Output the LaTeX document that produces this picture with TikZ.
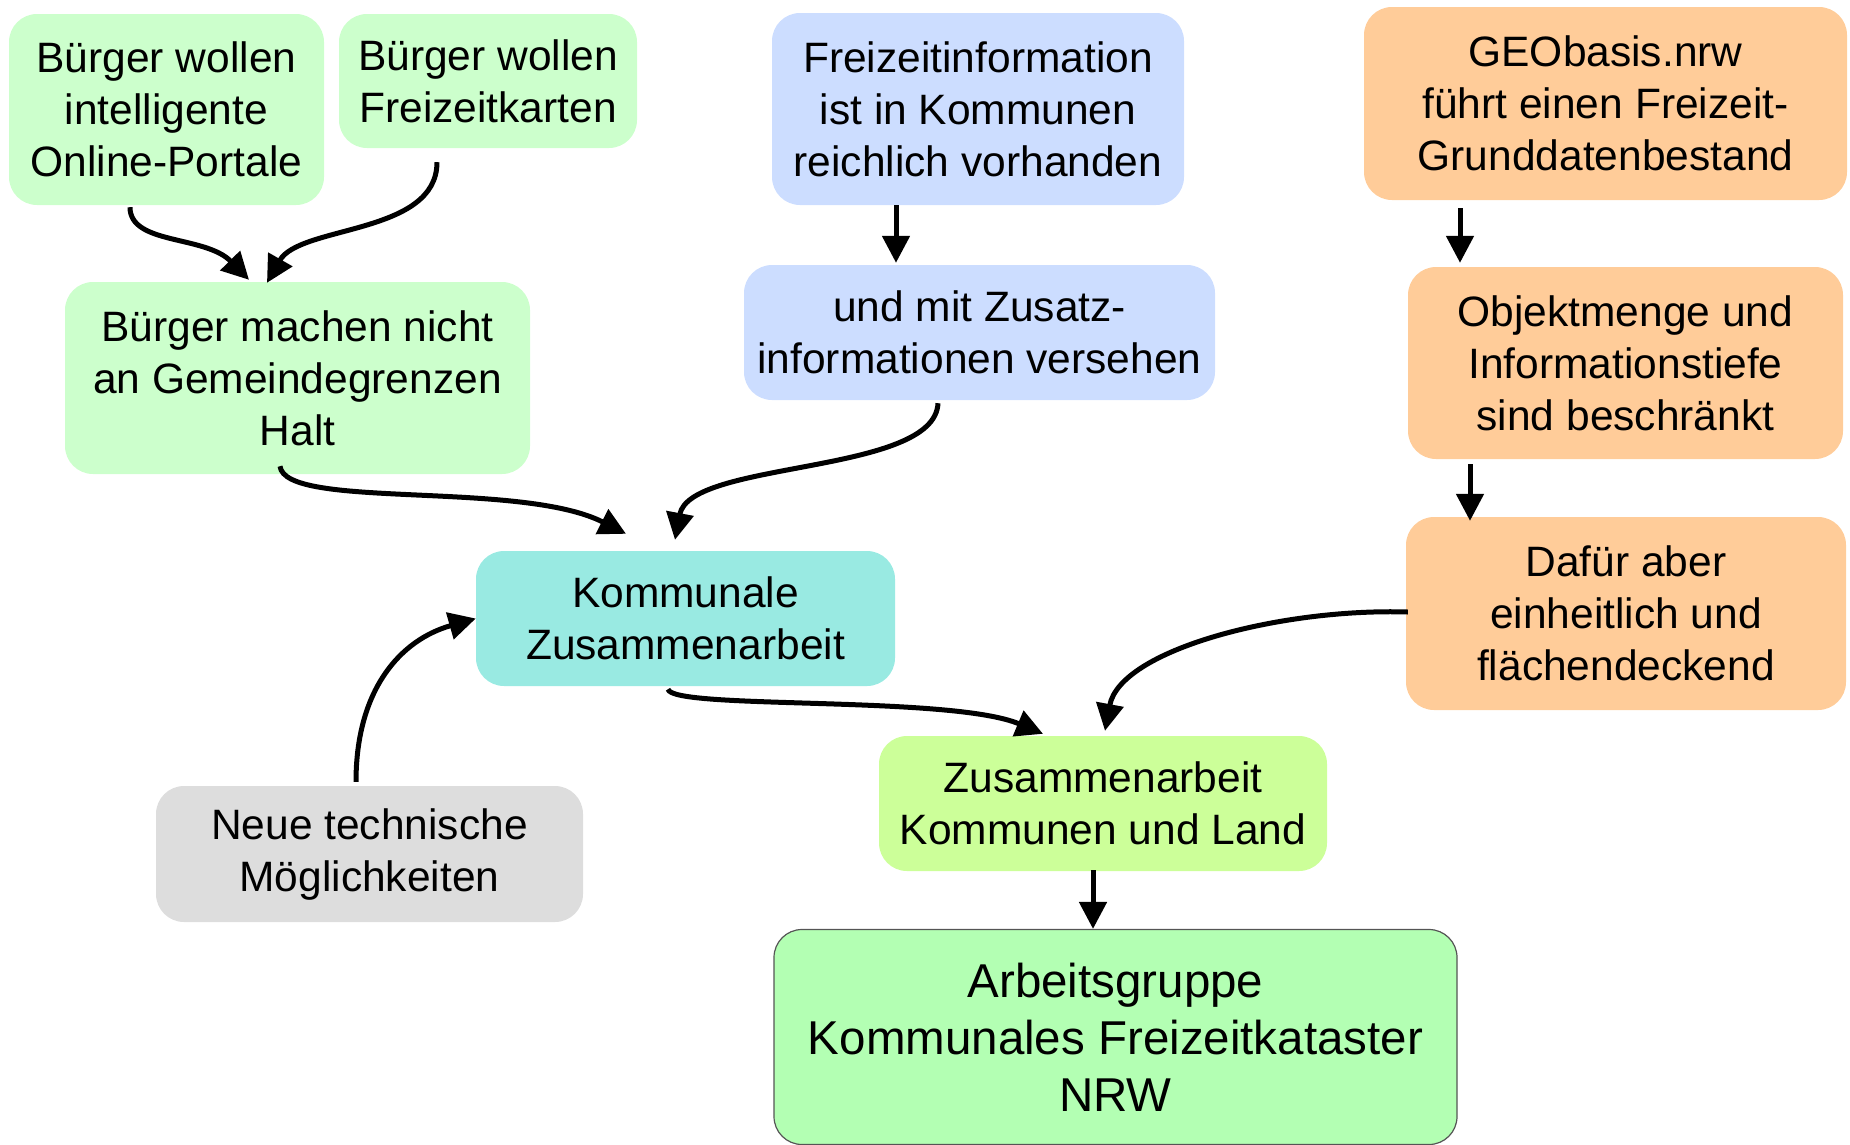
\documentclass[tikz,border=0pt]{standalone}
\usepackage{fontspec}
\setmainfont{Liberation Sans}
\usetikzlibrary{arrows.meta,calc}
\definecolor{cgreen}{RGB}{204,255,204}
\definecolor{cblue}{RGB}{204,221,255}
\definecolor{ccyan}{RGB}{153,234,226}
\definecolor{corange}{RGB}{255,204,153}
\definecolor{clime}{RGB}{204,255,153}
\definecolor{cgreenk}{RGB}{179,255,179}
\definecolor{cgray}{RGB}{221,221,221}
\definecolor{cborder}{RGB}{85,85,85}
\tikzset{
  box/.style={rectangle, rounded corners=28pt, inner sep=0pt, align=center,
    font=\fontsize{42.5}{52}\selectfont},
  bigbox/.style={box, font=\fontsize{47.5}{57}\selectfont, draw=cborder, line width=1.2pt},
  arr/.style={line width=5pt, -{Triangle[length=27pt,width=27pt]}},
}
\begin{document}
\begin{tikzpicture}[x=1pt,y=-1pt]
\useasboundingbox (0,0) rectangle (1850,1144);
% nodes
\node[box, fill=cgreen, minimum width=315pt, minimum height=191pt] (A) at (166.5,109.5) {Bürger wollen\\intelligente\\Online-Portale};
\node[box, fill=cgreen, minimum width=298pt, minimum height=134pt] (B) at (488,81) {Bürger wollen\\Freizeitkarten};
\node[box, fill=cgreen, minimum width=465pt, minimum height=192pt] (C) at (297.5,378) {Bürger machen nicht\\an Gemeindegrenzen\\Halt};
\node[box, fill=cblue, minimum width=412pt, minimum height=192pt] (D) at (978,109) {Freizeitinformation\\ist in Kommunen\\reichlich vorhanden};
\node[box, fill=cblue, minimum width=471pt, minimum height=135pt] (E) at (979.5,332.5) {und mit Zusatz-\\informationen versehen};
\node[box, fill=corange, minimum width=483pt, minimum height=193pt] (F) at (1605.5,103.5) {GEObasis.nrw\\führt einen Freizeit-\\Grunddatenbestand};
\node[box, fill=corange, minimum width=435pt, minimum height=192pt] (G) at (1625.5,363) {Objektmenge und\\Informationstiefe\\sind beschränkt};
\node[box, fill=corange, minimum width=440pt, minimum height=193pt] (H) at (1626,613.5) {Dafür aber\\einheitlich und\\flächendeckend};
\node[box, fill=ccyan, minimum width=419pt, minimum height=135pt] (I) at (685.5,618.5) {Kommunale\\Zusammenarbeit};
\node[box, fill=clime, minimum width=448pt, minimum height=135pt] (J) at (1103,803.5) {Zusammenarbeit\\Kommunen und Land};
\node[bigbox, fill=cgreenk, minimum width=683pt, minimum height=215pt] (K) at (1115.5,1037) {Arbeitsgruppe\\Kommunales Freizeitkataster\\NRW};
\node[box, fill=cgray, minimum width=427pt, minimum height=136pt] (L) at (369.5,854) {Neue technische\\Möglichkeiten};
% connectors
\draw[arr] ([xshift=-36.5pt,yshift=-2pt]A.south) .. controls (130,245) and (205,235) .. ([xshift=-48.5pt,yshift=2pt]C.north);
\draw[arr] ([xshift=-51pt,yshift=-14pt]B.south) .. controls (437,235) and (300,225) .. ([xshift=-30.5pt,yshift=-1pt]C.north);
\draw[arr] ([xshift=-82pt,yshift=0pt]D.south) -- ([xshift=-83.5pt,yshift=2pt]E.north);
\draw[arr] ([xshift=-41.5pt,yshift=-3pt]E.south) .. controls (935,475) and (690,460) .. ([xshift=-10.5pt,yshift=11pt]I.north);
\draw[arr] ([xshift=-17.5pt,yshift=8pt]C.south) .. controls (285,510) and (520,480) .. ([xshift=-59.5pt,yshift=17pt]I.north);
\draw[arr] ([xshift=-13.5pt,yshift=4pt]L.north) .. controls (356,690) and (400,640) .. (I.west);
\draw[arr] ([xshift=-17.5pt,yshift=-3pt]I.south) .. controls (672,710) and (950,695) .. ([xshift=-60pt,yshift=2pt]J.north);
\draw[arr] ([xshift=2pt,yshift=1.5pt]H.west) .. controls (1280,608) and (1120,650) .. ([xshift=2pt,yshift=5pt]J.north);
\draw[arr] ([xshift=-10pt,yshift=1pt]J.south) -- ([xshift=-22.5pt,yshift=0pt]K.north);
\draw[arr] ([xshift=-145.5pt,yshift=-8pt]F.south) -- ([xshift=-165.5pt,yshift=4pt]G.north);
\draw[arr] ([xshift=-155.5pt,yshift=-5pt]G.south) -- ([xshift=-156pt,yshift=-4pt]H.north);
\end{tikzpicture}
\end{document}
